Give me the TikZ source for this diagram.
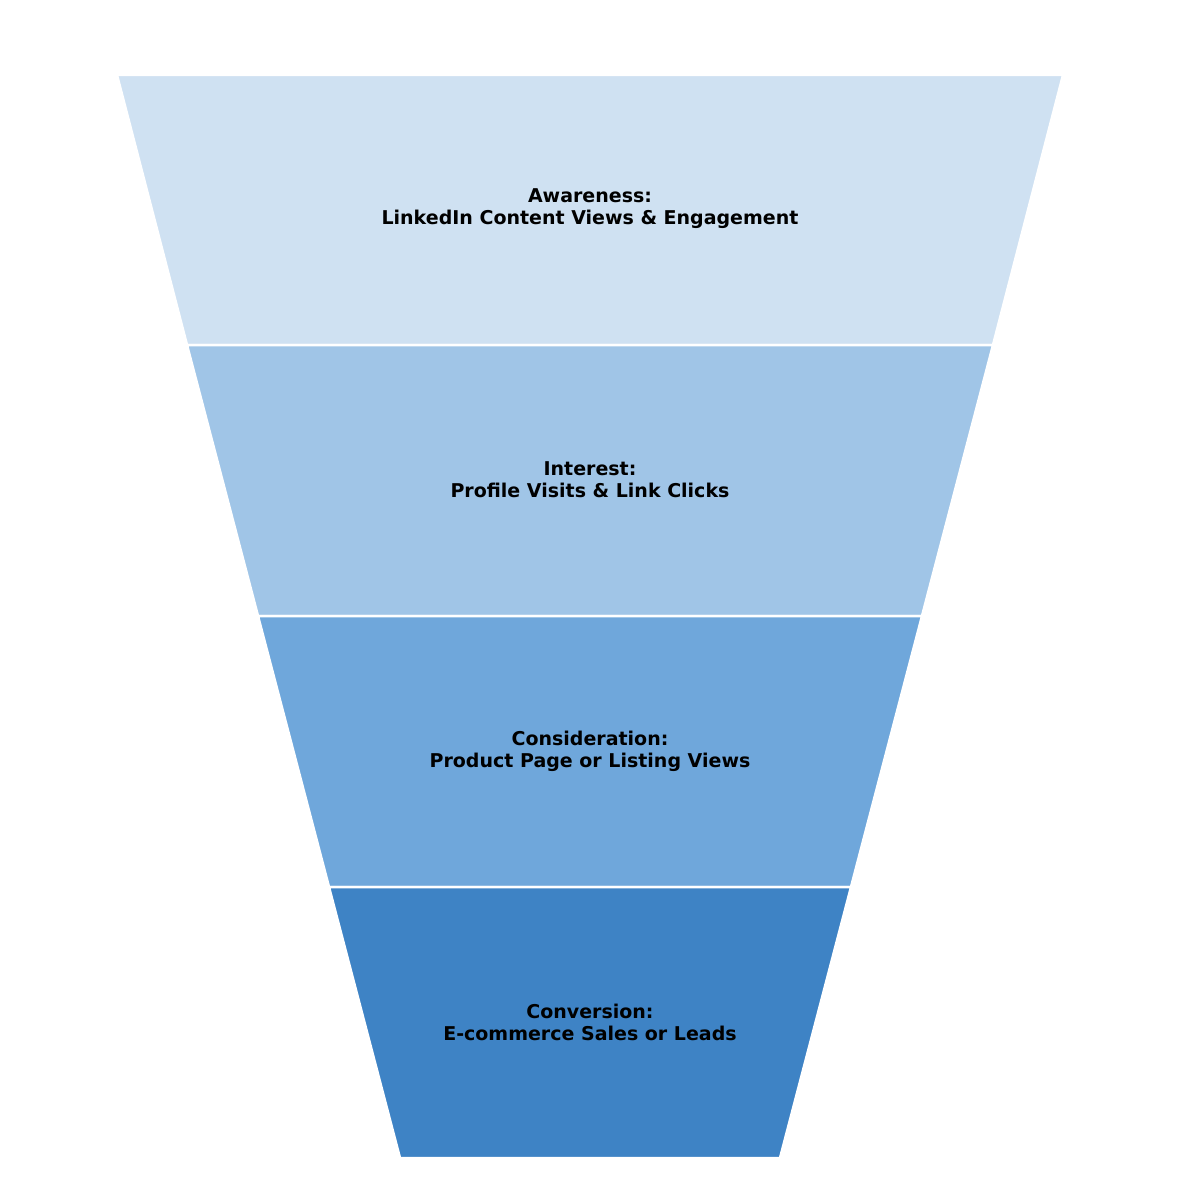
\documentclass[tikz,border=0pt]{standalone}
\usepackage{fontspec}
\setmainfont{DejaVu Sans}
\definecolor{c1}{HTML}{CFE1F2}
\definecolor{c2}{HTML}{A0C5E7}
\definecolor{c3}{HTML}{6FA7DB}
\definecolor{c4}{HTML}{3E83C5}
\begin{document}
\begin{tikzpicture}[x=1pt,y=-1pt,
  band/.style={draw=white,line width=2.5pt},
  lbl/.style={font=\fontsize{19}{22}\selectfont\bfseries,align=center,text=black}]
\useasboundingbox[fill=white] (0,0) rectangle (1180,1180);
\fill[c1,band] (117,75) -- (1063,75) -- (993,345) -- (187,345) -- cycle;
\fill[c2,band] (187,345) -- (993,345) -- (922,616) -- (258,616) -- cycle;
\fill[c3,band] (258,616) -- (922,616) -- (851,887) -- (329,887) -- cycle;
\fill[c4,band] (329,887) -- (851,887) -- (780,1158) -- (400,1158) -- cycle;
\node[lbl] (a) at (590,209) {Awareness:\\LinkedIn Content Views \& Engagement};
\node[lbl] (b) at (590,480) {Interest:\\Profile Visits \& Link Clicks};
\node[lbl] (c) at (590,751) {Consideration:\\Product Page or Listing Views};
\node[lbl] (d) at (590,1022) {Conversion:\\E-commerce Sales or Leads};
\end{tikzpicture}
\end{document}
